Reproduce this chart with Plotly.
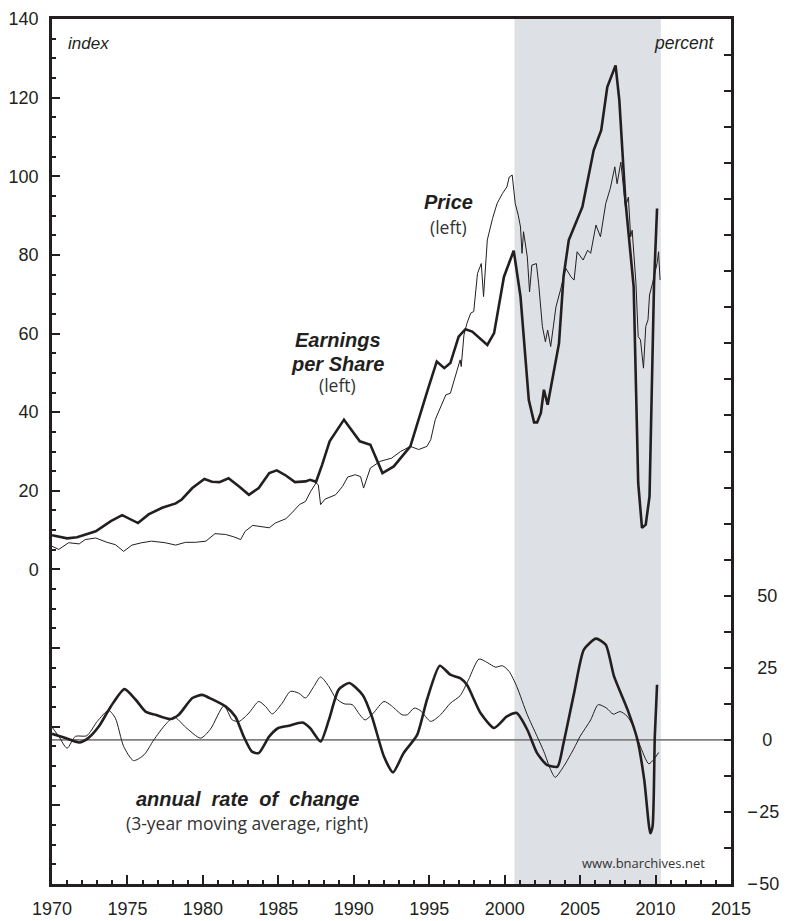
import plotly.graph_objects as go

# ---------------- data ----------------
eps_years = [1970.0, 1971.0, 1971.66, 1972.9, 1973.9, 1974.65, 1975.7, 1976.4, 1977.3, 1978.2,
             1978.6, 1979.3, 1980.1, 1980.6, 1981.1, 1981.7, 1982.4, 1983.05, 1983.7, 1984.4,
             1984.9, 1985.5, 1986.1, 1986.8, 1987.1, 1987.5, 1987.9, 1988.4, 1989.35, 1990.4,
             1991.1, 1991.9, 1992.65, 1993.75, 1994.9, 1995.5, 1996.0, 1996.4, 1996.95, 1997.4,
             1997.85, 1998.85, 1999.3, 1999.95, 2000.6, 2001.05, 2001.6, 2001.95, 2002.15, 2002.4,
             2002.6, 2002.85, 2003.6, 2003.9, 2004.25, 2004.7, 2005.15, 2005.9, 2006.4, 2006.8,
             2007.35, 2007.6, 2008.0, 2008.55, 2008.85, 2009.1, 2009.35, 2009.6, 2009.9, 2010.1]
eps_index = [8.7, 7.9, 8.2, 9.7, 12.3, 13.8, 11.8, 14.0, 15.7, 16.8,
             17.8, 20.7, 23.0, 22.3, 22.2, 23.2, 21.1, 19.0, 20.7, 24.5,
             25.2, 23.9, 22.2, 22.4, 22.8, 22.3, 26.6, 32.6, 38.1, 32.6,
             31.7, 24.5, 26.2, 31.3, 45.7, 52.9, 51.2, 52.5, 59.2, 61.1,
             60.5, 57.1, 60.1, 74.4, 81.1, 69.4, 43.1, 37.4, 37.4, 39.8,
             45.7, 41.9, 57.5, 74.4, 83.8, 88.0, 92.2, 106.6, 111.7, 122.7,
             128.2, 119.3, 93.9, 71.9, 22.0, 10.6, 11.4, 18.6, 72.8, 91.8]

price_years = [1970.0, 1970.45, 1971.1, 1971.8, 1972.2, 1972.9, 1973.65, 1974.2, 1974.75, 1975.3,
               1975.95, 1976.6, 1977.5, 1978.2, 1978.85, 1979.5, 1980.2, 1980.8, 1981.5, 1982.05,
               1982.5, 1982.8, 1983.3, 1983.8, 1984.4, 1984.8, 1985.5, 1985.9, 1986.4, 1986.8,
               1987.15, 1987.5, 1987.65, 1987.8, 1988.1, 1988.8, 1989.25, 1989.6, 1990.1, 1990.45,
               1990.65, 1991.1, 1991.75, 1992.5, 1993.1, 1993.75, 1994.3, 1994.85, 1995.1, 1995.4,
               1995.75, 1996.1, 1996.4, 1996.75, 1997.05, 1997.12, 1997.3, 1997.5, 1997.75, 1997.95,
               1998.2, 1998.45, 1998.6, 1998.85, 1999.2, 1999.5, 1999.85, 2000.15, 2000.3, 2000.5,
               2000.7, 2000.9, 2001.05, 2001.15, 2001.25, 2001.5, 2001.65, 2001.8, 2002.1, 2002.25,
               2002.5, 2002.7, 2002.85, 2003.05, 2003.4, 2003.7, 2004.05, 2004.4, 2004.6, 2004.8,
               2005.2, 2005.5, 2005.7, 2006.05, 2006.35, 2006.7, 2007.0, 2007.3, 2007.45, 2007.7,
               2007.85, 2008.0, 2008.2, 2008.35, 2008.45, 2008.7, 2008.85, 2009.0, 2009.2, 2009.35,
               2009.5, 2009.6, 2009.8, 2009.95, 2010.1, 2010.2, 2010.3]
price_index = [5.9, 5.1, 6.8, 6.5, 7.6, 8.0, 6.9, 6.3, 4.6, 6.2,
               6.8, 7.2, 6.8, 6.2, 6.9, 6.9, 7.2, 9.1, 8.9, 8.3,
               7.6, 9.7, 11.2, 11.0, 10.6, 11.8, 12.9, 14.4, 16.5, 17.3,
               19.9, 22.0, 21.5, 16.5, 17.9, 19.0, 21.1, 23.5, 24.1, 23.6,
               20.7, 25.8, 27.5, 28.3, 30.0, 31.3, 30.5, 31.3, 33.0, 38.1,
               41.4, 44.4, 44.8, 49.1, 53.3, 51.6, 59.6, 62.6, 65.2, 65.6,
               75.3, 77.8, 69.4, 83.8, 89.3, 93.1, 95.6, 97.3, 99.8, 100.3,
               93.1, 90.1, 87.1, 80.4, 85.9, 79.5, 70.6, 77.4, 77.8, 72.8,
               61.8, 57.9, 60.9, 56.7, 66.8, 71.1, 76.6, 74.4, 73.6, 80.8,
               78.7, 81.2, 80.4, 87.6, 84.6, 93.1, 96.9, 102.4, 98.1, 103.6,
               98.1, 92.2, 94.7, 84.6, 86.3, 72.8, 59.2, 58.4, 51.2, 61.8,
               63.5, 69.8, 72.8, 75.7, 77.8, 80.8, 73.6]

eps_chg_years = [1970.0, 1970.9, 1971.8, 1972.4, 1973.1, 1973.9, 1974.8, 1975.55, 1976.2, 1976.85,
                 1977.85, 1978.4, 1979.3, 1979.95, 1980.6, 1981.5, 1982.15, 1982.7, 1983.25, 1983.7,
                 1984.4, 1985.0, 1985.7, 1986.6, 1987.1, 1987.8, 1988.35, 1989.0, 1989.7, 1990.6,
                 1991.2, 1992.0, 1992.6, 1993.3, 1994.2, 1994.85, 1995.7, 1996.4, 1997.05, 1997.5,
                 1998.4, 1999.3, 2000.15, 2000.8, 2001.5, 2002.15, 2002.8, 2003.5, 2003.9, 2004.6,
                 2005.25, 2006.05, 2006.7, 2007.25, 2008.15, 2008.8, 2009.25, 2009.65, 2009.8, 2009.95,
                 2010.1]
eps_chg = [2.1, 0.6, -0.9, 0.6, 4.6, 11.6, 17.6, 13.9, 9.8, 8.7,
           7.2, 8.7, 14.5, 15.6, 14.1, 11.6, 8.1, 1.2, -4.1, -4.6,
           1.2, 4.1, 4.9, 6.0, 4.1, -0.6, 6.9, 17.4, 19.7, 15.5,
           8.1, -5.8, -11.3, -4.6, 1.7, 13.9, 25.7, 22.6, 21.4, 19.1,
           9.3, 4.1, 8.1, 9.3, 3.5, -4.6, -8.7, -9.3, -1.2, 16.2,
           31.3, 35.1, 33.0, 22.0, 10.4, 0.0, -13.9, -32.4, -30.1, 1.2,
           19.1]

price_chg_years = [1970.0, 1970.45, 1971.0, 1971.55, 1972.3, 1973.0, 1973.75, 1974.2, 1974.75, 1975.4,
                   1976.1, 1976.75, 1977.5, 1978.1, 1978.85, 1979.85, 1980.5, 1981.4, 1981.95, 1982.4,
                   1983.05, 1983.7, 1984.15, 1984.6, 1985.25, 1985.8, 1986.35, 1986.8, 1987.35, 1987.8,
                   1988.35, 1988.8, 1989.35, 1989.9, 1990.4, 1990.75, 1991.3, 1992.0, 1992.5, 1993.2,
                   1993.55, 1994.0, 1994.4, 1995.1, 1995.75, 1996.4, 1997.05, 1997.6, 1998.3, 1998.85,
                   1999.4, 1999.85, 2000.3, 2000.8, 2001.5, 2002.15, 2002.6, 2003.05, 2003.35, 2003.9,
                   2004.6, 2005.0, 2005.7, 2006.2, 2006.75, 2007.2, 2007.65, 2008.1, 2008.5, 2008.95,
                   2009.55, 2009.9, 2010.2]
price_chg = [4.4, 1.2, -2.9, 1.2, 1.4, 6.4, 10.2, 7.5, -2.3, -7.2,
             -5.2, 0.0, 5.2, 7.9, 4.4, 0.6, 3.7, 11.8, 6.9, 6.4,
             9.3, 13.3, 11.6, 9.0, 12.7, 16.8, 16.2, 14.5, 18.5, 21.8,
             18.5, 14.5, 12.5, 12.2, 8.7, 6.9, 9.3, 13.3, 11.8, 8.7,
             8.7, 11.0, 10.2, 6.4, 8.7, 12.7, 15.3, 20.8, 28.0, 26.8,
             25.2, 25.7, 23.7, 18.5, 8.7, 1.2, -4.1, -10.4, -13.0, -9.3,
             -2.9, 1.2, 6.9, 12.2, 11.0, 8.9, 9.8, 8.3, 4.9, -1.7,
             -8.3, -6.7, -4.4]

shade_start, shade_end = 2000.65, 2010.35

left_tick_values = [-80, -60, -40, -20, 0, 20, 40, 60, 80, 100, 120, 140]
left_tick_labels = ["", "", "", "", "0", "20", "40", "60", "80", "100", "120", "140"]
right_tick_values = [-50 + 12.5 * k for k in range(25)]
right_label_map = {-50: "\u2212\u200a50", -25: "\u2212\u200a25", 0: "\u00a0\u00a0\u00a00",
                   25: "\u00a0\u00a025", 50: "\u00a0\u00a050"}
right_tick_labels = [right_label_map.get(v, "") for v in right_tick_values]

# ---------------- styling ----------------
INK = "#231f20"
HELV = "Liberation Sans, Arial, sans-serif"
Y_TICK_FONT = dict(family=HELV, size=18, color=INK)
R_TICK_FONT = dict(family=HELV, size=18, color=INK)
X_TICK_FONT = dict(family=HELV, size=18, color=INK)
LABEL_FONT = "Open Sans, sans-serif"

fig = go.Figure()
fig.add_trace(go.Scatter(x=price_years, y=price_index, mode="lines",
                         line=dict(color=INK, width=1), name="Price", yaxis="y"))
fig.add_trace(go.Scatter(x=eps_years, y=eps_index, mode="lines",
                         line=dict(color=INK, width=2.6), name="Earnings per Share", yaxis="y"))
fig.add_trace(go.Scatter(x=price_chg_years, y=price_chg, mode="lines",
                         line=dict(color=INK, width=1, shape="spline", smoothing=0.7),
                         name="Price growth", yaxis="y2"))
fig.add_trace(go.Scatter(x=eps_chg_years, y=eps_chg, mode="lines",
                         line=dict(color=INK, width=2.6, shape="spline", smoothing=0.6),
                         name="EPS growth", yaxis="y2"))

fig.add_shape(type="rect", xref="x", yref="paper", x0=shade_start, x1=shade_end, y0=0, y1=1,
              fillcolor="#dde0e5", line=dict(width=0), layer="below")
fig.add_shape(type="line", xref="paper", yref="y2", x0=0, x1=1, y0=0, y1=0,
              line=dict(color="#808080", width=1.6), layer="below")


def ann(text, x, y, yref="y", size=17, family=LABEL_FONT, color=INK, xanchor="center"):
    fig.add_annotation(text=text, x=x, y=y, xref="x", yref=yref, showarrow=False,
                       xanchor=xanchor, yanchor="middle",
                       font=dict(family=family, size=size, color=color))


ann("<i>index</i>", 1970.95, 133.8, family=HELV, size=17, xanchor="left")
ann("<i>percent</i>", 2014.05, 133.8, family=HELV, size=17.5, xanchor="right")
ann("<b><i>Price</i></b>", 1996.3, 93.4, family=HELV, size=20)
ann("(left)", 1996.3, 87.1, size=17.5, color="#333333")
ann("<b><i>Earnings</i></b>", 1988.95, 58.4, family=HELV, size=20)
ann("<b><i>per\u00a0Share</i></b>", 1988.9, 52.3, family=HELV, size=20)
ann("(left)", 1988.95, 47.0, size=17.5, color="#333333")
ann("<b><i>annual\u00a0\u00a0rate\u00a0\u00a0of\u00a0\u00a0change</i></b>", 1982.95, -20.6,
    yref="y2", family=HELV, size=20)
ann("(3-year moving average, right)", 1982.95, -28.9, yref="y2", size=17.5, color="#333333")
ann("www.bnarchives.net", 2009.2, -42.7, yref="y2", size=13, color="#333333")

axis_line = dict(showline=True, linewidth=2.5, linecolor=INK, showgrid=False,
                 zeroline=False, automargin=False)

# the page adds an 8px body margin, so the figure is 8px smaller than the window
fig.update_layout(
    width=782, height=913,
    margin=dict(l=44, r=59, t=11, b=37),
    paper_bgcolor="white", plot_bgcolor="white",
    showlegend=False,
    xaxis=dict(range=[1970, 2015], tickmode="linear", tick0=1970, dtick=5,
               ticks="inside", ticklen=9, tickwidth=2, tickcolor=INK,
               tickfont=X_TICK_FONT, mirror=True, ticklabelstandoff=7,
               minor=dict(tickmode="linear", tick0=1970, dtick=1, ticks="inside",
                          ticklen=4, tickwidth=1.5, tickcolor=INK),
               **axis_line),
    yaxis=dict(range=[-80, 140], tickmode="array", tickvals=left_tick_values,
               ticktext=left_tick_labels, ticks="inside", ticklen=8, tickwidth=2,
               tickcolor=INK, tickfont=Y_TICK_FONT, ticklabelstandoff=7,
               minor=dict(tickmode="linear", tick0=0, dtick=5, ticks="inside",
                          ticklen=4, tickwidth=1.5, tickcolor=INK),
               **axis_line),
    yaxis2=dict(range=[-50, 250], overlaying="y", side="right", tickmode="array",
                tickvals=right_tick_values, ticktext=right_tick_labels,
                ticks="inside", ticklen=7, tickwidth=2, tickcolor=INK,
                tickfont=R_TICK_FONT, ticklabelstandoff=10, **axis_line),
)

fig.write_html("out.html")
